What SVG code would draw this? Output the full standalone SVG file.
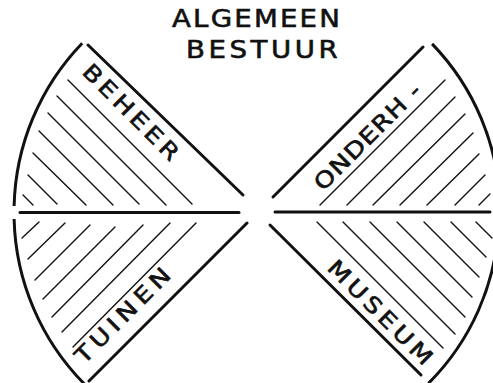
<svg xmlns="http://www.w3.org/2000/svg" width="493" height="383" viewBox="0 0 493 383">
<style>
.edge{stroke:#111;stroke-width:3;fill:none;stroke-linecap:round}
.arc{stroke:#111;stroke-width:3;fill:none}
.hatch{stroke:#111;stroke-width:1.4;fill:none;stroke-linecap:round}
.lbl{font-family:"DejaVu Sans","Liberation Sans",sans-serif;font-size:22px;fill:#111;stroke:#111;stroke-width:0.6}
.ttl{font-family:"DejaVu Sans","Liberation Sans",sans-serif;font-size:24px;fill:#111;stroke:#111;stroke-width:0.6}
</style>
<rect width="493" height="383" fill="#fff"/>
<g id="title">
<text class="ttl" transform="translate(172 27) scale(1.15 1)" textLength="146" lengthAdjust="spacing">ALGEMEEN</text>
<text class="ttl" transform="translate(186 58) scale(1.15 1)" textLength="132" lengthAdjust="spacing">BESTUUR</text>
</g>
<g id="dividers">
<line class="edge" x1="20" y1="212.5" x2="239" y2="212.5"/>
<line class="edge" x1="275" y1="212" x2="490" y2="212"/>
</g>
<g id="beheer">
<path class="arc" d="M82.2 43.2 A243 243 0 0 0 14.1 206"/>
<line class="edge" x1="88" y1="45" x2="243" y2="195"/>
<g class="hatch">
<line x1="68" y1="80" x2="192" y2="204"/>
<line x1="57" y1="96" x2="166" y2="205"/>
<line x1="48" y1="113" x2="139" y2="204"/>
<line x1="39" y1="131" x2="113" y2="205"/>
<line x1="33" y1="153" x2="86" y2="205"/>
<line x1="28" y1="175" x2="57" y2="204"/>
<line x1="23" y1="195" x2="33" y2="205"/>
</g>
<text class="lbl" transform="translate(81 73) rotate(45) scale(1.2 1)" textLength="105" lengthAdjust="spacing">BEHEER</text>
</g>
<g id="onderhoud">
<path class="arc" d="M432.1 43.9 A242 242 0 0 1 500 206"/>
<line class="edge" x1="273" y1="197" x2="423" y2="47"/>
<g class="hatch">
<line x1="445" y1="80" x2="320" y2="205"/>
<line x1="455" y1="97" x2="347" y2="205"/>
<line x1="465" y1="114" x2="373" y2="205"/>
<line x1="473" y1="133" x2="400" y2="205"/>
<line x1="479" y1="154" x2="427" y2="205"/>
<line x1="485" y1="175" x2="455" y2="205"/>
<line x1="490" y1="194" x2="479" y2="205"/>
</g>
<text class="lbl" transform="translate(323 192) rotate(-45) scale(1.2 1)" textLength="117.5" lengthAdjust="spacing">ONDERH -</text>
</g>
<g id="tuinen">
<path class="arc" d="M14.1 219 A243 243 0 0 0 85.2 384.8"/>
<line class="edge" x1="247" y1="223" x2="89" y2="381"/>
<g class="hatch">
<line x1="39" y1="222" x2="22" y2="238"/>
<line x1="65" y1="223" x2="28" y2="259"/>
<line x1="90" y1="225" x2="35" y2="280"/>
<line x1="115" y1="227" x2="43" y2="299"/>
<line x1="143" y1="225" x2="52" y2="317"/>
<line x1="170" y1="223" x2="62" y2="332"/>
<line x1="196" y1="223" x2="73" y2="347"/>
</g>
<text class="lbl" transform="translate(84 365) rotate(-45) scale(1.2 1)" textLength="104" lengthAdjust="spacing">TUINEN</text>
</g>
<g id="museum">
<path class="arc" d="M498.7 225 A241 241 0 0 1 428.4 383.4"/>
<line class="edge" x1="270" y1="225" x2="421" y2="375"/>
<g class="hatch">
<line x1="317" y1="222" x2="443" y2="348"/>
<line x1="343" y1="222" x2="455" y2="334"/>
<line x1="370" y1="222" x2="465" y2="317"/>
<line x1="397" y1="222" x2="472" y2="297"/>
<line x1="424" y1="222" x2="479" y2="277"/>
<line x1="451" y1="222" x2="486" y2="257"/>
<line x1="476" y1="222" x2="492" y2="238"/>
</g>
<text class="lbl" transform="translate(326 269) rotate(45) scale(1.2 1)" textLength="115" lengthAdjust="spacing">MUSEUM</text>
</g>
</svg>
